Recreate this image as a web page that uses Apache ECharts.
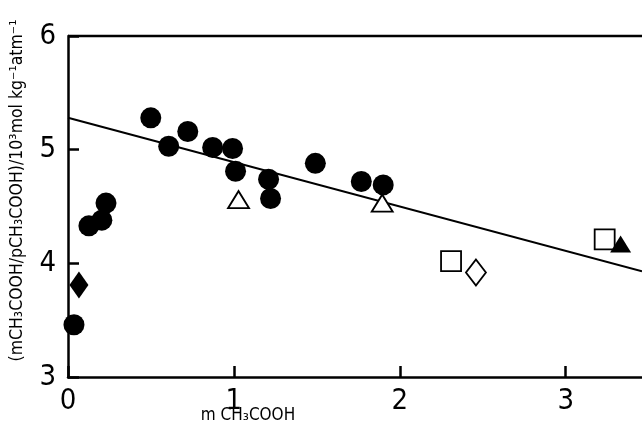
<!DOCTYPE html>
<html><head><meta charset="utf-8">
<script src="https://cdn.jsdelivr.net/npm/echarts@6/dist/echarts.min.js"></script>
<style>html,body{margin:0;padding:0;background:#fff}#c{width:642px;height:430px}</style>
</head><body><div id="c"></div>
<script>
const xTicks = [0, 1, 2, 3];
const yTicks = [3, 4, 5, 6];
const filledCircles = [[0.036,3.46],[0.126,4.33],[0.204,4.38],[0.229,4.53],[0.499,5.28],[0.607,5.03],[0.722,5.16],[0.872,5.02],[0.992,5.01],[1.01,4.81],[1.209,4.74],[1.221,4.57],[1.491,4.88],[1.768,4.72],[1.900,4.69]];
const openTriangles = [[1.028,4.56],[1.894,4.53]];
const openSquares = [[2.309,4.02],[3.235,4.21]];
const openDiamonds = [[2.459,3.92]];
const filledTriangles = [[3.331,4.17]];
const filledDiamonds = [[0.066,3.81]];
const fitLine = [[0,5.28],[3.46,3.93]];

const FONT = '"DejaVu Sans Condensed","DejaVu Sans",sans-serif';
const chart = echarts.init(document.getElementById('c'));
chart.setOption({
  animation:false,
  backgroundColor:'#fff',
  grid:{left:68,right:0,top:36,bottom:53,outerBoundsMode:'none',containLabel:false},
  xAxis:{type:'value',min:xTicks[0],max:3.46,interval:1,z:5,
    axisLine:{show:true,onZero:false,lineStyle:{color:'#000',width:2.5}},
    axisTick:{show:true,inside:true,length:11,lineStyle:{color:'#000',width:2.5}},
    axisLabel:{color:'#000',fontSize:29,fontFamily:FONT,margin:10,showMaxLabel:false},
    splitLine:{show:false},
    name:'m CH₃COOH',nameLocation:'middle',nameGap:30,nameMoveOverlap:false,
    nameTextStyle:{color:'#000',fontSize:17,fontFamily:FONT,padding:[0,214,0,0]}
  },
  yAxis:{type:'value',min:yTicks[0],max:yTicks[yTicks.length-1],interval:1,z:5,
    axisLine:{show:true,onZero:false,lineStyle:{color:'#000',width:2.5}},
    axisTick:{show:true,inside:true,length:11,lineStyle:{color:'#000',width:2.5}},
    axisLabel:{color:'#000',fontSize:29,fontFamily:FONT,margin:12},
    splitLine:{show:false},
    name:'(mCH₃COOH/pCH₃COOH)/10³mol kg⁻¹atm⁻¹',nameLocation:'middle',nameGap:42,nameMoveOverlap:false,
    nameTextStyle:{color:'#000',fontSize:17.5,fontFamily:FONT,padding:[0,0,0,32]}
  },
  series:[
    {type:'line',data:fitLine,symbol:'none',lineStyle:{color:'#000',width:2},z:1},
    {type:'scatter',data:filledCircles,symbol:'circle',symbolSize:21,itemStyle:{color:'#000',opacity:1},z:3},
    {type:'scatter',data:openTriangles,symbol:'triangle',symbolSize:[21,17],itemStyle:{color:'#fff',borderColor:'#000',borderWidth:1.8,opacity:1},z:3},
    {type:'scatter',data:openSquares,symbol:'rect',symbolSize:20,itemStyle:{color:'#fff',borderColor:'#000',borderWidth:1.8,opacity:1},z:3},
    {type:'scatter',data:openDiamonds,symbol:'diamond',symbolSize:[20,26],itemStyle:{color:'#fff',borderColor:'#000',borderWidth:1.8,opacity:1},z:3},
    {type:'scatter',data:filledTriangles,symbol:'triangle',symbolSize:[21,17],itemStyle:{color:'#000',opacity:1},z:4},
    {type:'scatter',data:filledDiamonds,symbol:'diamond',symbolSize:[19,27],itemStyle:{color:'#000',opacity:1},z:3}
  ],
  graphic:[{type:'line',shape:{x1:68,y1:36,x2:642,y2:36},style:{stroke:'#000',lineWidth:2.5},z:10}]
});
</script></body></html>
